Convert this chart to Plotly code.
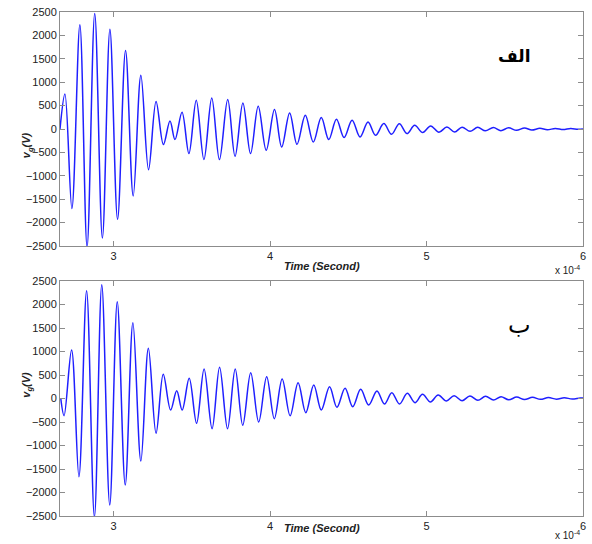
import plotly.graph_objects as go
from plotly.subplots import make_subplots

# Time in units of 1e-4 s, voltage in V (extrema)
t_a = [2.657, 2.6885, 2.733, 2.784, 2.830, 2.879, 2.928, 2.976, 3.025, 3.076, 3.125,
       3.174, 3.223, 3.271, 3.318, 3.360, 3.392, 3.437, 3.481, 3.528, 3.577, 3.627,
       3.676, 3.729, 3.776, 3.826, 3.875, 3.924, 3.975, 4.028, 4.074, 4.125, 4.172,
       4.225, 4.276, 4.327, 4.375, 4.424, 4.473, 4.524, 4.575, 4.626, 4.674, 4.727,
       4.776, 4.826, 4.875, 4.924, 4.975, 5.026, 5.079, 5.130, 5.179, 5.227, 5.278,
       5.327, 5.376, 5.427, 5.475, 5.524, 5.575, 5.626, 5.673, 5.724, 5.772, 5.823,
       5.873, 5.921, 5.969, 6.0]
v_a = [0, 750, -1700, 2230, -2520, 2470, -2330, 2130, -1930, 1680, -1430,
       1150, -870, 590, -333, 171, -226, 357, -526, 613, -654, 662,
       -654, 628, -583, 556, -526, 485, -455, 415, -385, 342, -327,
       293, -278, 244, -226, 207, -184, 186, -171, 150, -135, 115,
       -113, 113, -98, 79, -77, 64, -70, 43, -64, 40, -50,
       35, -40, 30, -35, 25, -28, 20, -22, 15, -18, 12,
       -12, 10, -8, 0]

t_b = [2.662, 2.683, 2.731, 2.778, 2.827, 2.877, 2.924, 2.975, 3.023, 3.074, 3.123,
       3.174, 3.222, 3.271, 3.317, 3.364, 3.403, 3.438, 3.483, 3.530, 3.578, 3.629,
       3.677, 3.728, 3.777, 3.825, 3.876, 3.927, 3.978, 4.027, 4.077, 4.128, 4.179,
       4.228, 4.279, 4.327, 4.380, 4.427, 4.479, 4.528, 4.579, 4.630, 4.683, 4.731,
       4.778, 4.827, 4.877, 4.926, 4.974, 5.025, 5.074, 5.127, 5.176, 5.227, 5.277,
       5.328, 5.377, 5.428, 5.476, 5.525, 5.576, 5.626, 5.677, 5.728, 5.779, 5.830,
       5.880, 5.931, 5.982, 6.0]
v_b = [0, -366, 1032, -1664, 2294, -2520, 2421, -2266, 2060, -1840, 1613,
       -1330, 1068, -740, 515, -245, 166, -245, 430, -528, 628, -643,
       664, -643, 628, -570, 549, -500, 464, -430, 415, -366, 336,
       -302, 287, -245, 251, -187, 217, -174, 196, -138, 160, -117,
       123, -117, 110, -89, 89, -74, 74, -53, 60, -47, 53,
       -38, 47, -32, 38, -28, 30, -22, 25, -18, 20, -14,
       15, -10, 12, 8]

x_ticks = [3, 4, 5, 6]
y_ticks = [-2500, -2000, -1500, -1000, -500, 0, 500, 1000, 1500, 2000, 2500]
panel_labels = ["الف", "ب"]

W, H = 592, 544
ml, mr, mt, mb = 60, 6, 12, 28
ph = H - mt - mb
pw = W - ml - mr

def dom(top_px, bot_px):
    return [(H - mb - bot_px) / ph, (H - mb - top_px) / ph]

def py(px):
    return (H - mb - px) / ph

def pxx(px):
    return (px - ml) / pw

fig = make_subplots(rows=2, cols=1)
line = dict(color="#1f1fff", width=1.5, shape="spline", smoothing=1.0)
fig.add_trace(go.Scatter(x=t_a, y=v_a, mode="lines", line=line, showlegend=False), row=1, col=1)
fig.add_trace(go.Scatter(x=t_b, y=v_b, mode="lines", line=line, showlegend=False), row=2, col=1)

axis_common = dict(showgrid=False, zeroline=False, showline=True, linecolor="#8c8c8c",
                   linewidth=1, mirror="ticks", ticks="inside", ticklen=5,
                   tickcolor="#8c8c8c",
                   tickfont=dict(family="Liberation Sans, Arial", size=11, color="#222"))

fig.update_xaxes(range=[2.657, 6.0], tickvals=x_ticks, ticktext=[str(v) for v in x_ticks],
                 **axis_common)
fig.update_yaxes(range=[-2500, 2500], tickvals=y_ticks, **axis_common)
fig.update_layout(yaxis=dict(domain=dom(12, 246)), yaxis2=dict(domain=dom(281, 516)),
                  xaxis=dict(domain=[0, 1]), xaxis2=dict(domain=[0, 1]))

ann = []
panels = [(12, 246, panel_labels[0], "bold", 17, 535, 56),
          (281, 516, panel_labels[1], "normal", 24, 536, 325)]
for top_px, bot_px, lab, wt, sz, lx, ly in panels:
    ann.append(dict(x=0.5, y=py(bot_px + 20), xref="paper", yref="paper",
                    text="<b><i>Time (Second)</i></b>", showarrow=False,
                    font=dict(family="Liberation Sans, Arial", size=11, color="#222")))
    ann.append(dict(x=pxx(585), y=py(min(bot_px + 32, 543)), xref="paper", yref="paper",
                    xanchor="right", yanchor="bottom", text="x 10<sup>-4</sup>", showarrow=False,
                    font=dict(family="Liberation Sans, Arial", size=10, color="#222")))
    ann.append(dict(x=pxx(18), y=py((top_px + bot_px) / 2 + 1), xref="paper", yref="paper",
                    text="<b><i>v<sub>g</sub>(V)</i></b>", showarrow=False, textangle=-90,
                    font=dict(family="Liberation Sans, Arial", size=11, color="#222")))
    ann.append(dict(x=pxx(lx), y=py(ly), xref="paper", yref="paper",
                    xanchor="right", yanchor="middle", text=lab, showarrow=False,
                    font=dict(family="DejaVu Sans", size=sz, color="#000", weight=wt)))

fig.update_layout(width=W, height=H, margin=dict(l=ml, r=mr, t=mt, b=mb),
                  paper_bgcolor="white", plot_bgcolor="white", annotations=ann)
fig.write_html("out.html")
